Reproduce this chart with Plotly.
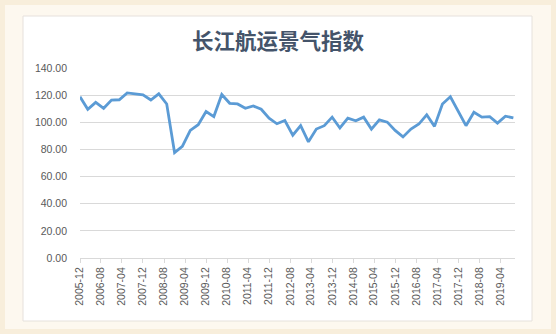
import plotly.graph_objects as go
import pandas as pd

title_text = "长江航运景气指数"
dates = pd.date_range("2005-12-01", periods=56, freq="3MS").strftime("%Y-%m-%d").tolist()
values = [118.8, 109.6, 114.7, 110.3, 116.4, 116.6, 121.7, 121.0, 120.3, 116.4,
          121.0, 113.5, 77.6, 82.2, 94.0, 98.2, 107.9, 104.2, 120.5, 114.0,
          113.5, 110.3, 112.0, 109.6, 103.0, 98.9, 101.3, 90.5, 97.5, 85.6,
          95.0, 97.5, 103.8, 95.8, 103.0, 101.1, 103.8, 95.0, 101.8, 100.1,
          94.0, 89.2, 95.0, 98.7, 105.5, 97.0, 113.5, 118.8, 107.9, 97.5,
          107.4, 103.8, 104.2, 99.4, 104.5, 103.3]
y_ticks = [0, 20, 40, 60, 80, 100, 120, 140]

W, H = 556, 334
L, R, T, B = 80, 515, 68, 258

def px_x(p):
    return (p - L) / (R - L)

def px_y(p):
    return (B - p) / (B - T)

fig = go.Figure()
fig.add_trace(go.Scatter(x=dates, y=values, mode="lines",
                         line=dict(color="#5b9bd5", width=2.8),
                         hoverinfo="x+y"))

shapes = [
    dict(type="rect", xref="paper", yref="paper", x0=px_x(0), x1=px_x(W), y0=px_y(H), y1=px_y(0),
         fillcolor="#f8eedb", line=dict(width=0), layer="below"),
    dict(type="rect", xref="paper", yref="paper", x0=px_x(5), x1=px_x(W - 5), y0=px_y(H - 5), y1=px_y(5),
         fillcolor="#fdf8ef", line=dict(width=0), layer="below"),
    dict(type="rect", xref="paper", yref="paper", x0=px_x(23), x1=px_x(532), y0=px_y(321), y1=px_y(16),
         fillcolor="#ffffff", line=dict(color="#e6e1dc", width=1), layer="below"),
]

fig.update_layout(
    width=W, height=H,
    margin=dict(l=L, r=W - R, t=T, b=H - B),
    paper_bgcolor="#f8eedb",
    plot_bgcolor="rgba(0,0,0,0)",
    showlegend=False,
    shapes=shapes,
    font=dict(family="Liberation Sans, Arial, sans-serif", color="#595959", size=10.5),
    title=dict(text="<b>" + title_text + "</b>", x=278 / W, xref="container", xanchor="center",
               y=1 - 41 / H, yref="container", yanchor="middle",
               font=dict(family="Noto Sans CJK SC", size=21.5, color="#44546a")),
)
fig.update_yaxes(range=[0, 140], tickvals=y_ticks, tickformat=".2f",
                 showgrid=True, gridcolor="#d9d9d9", gridwidth=1,
                 zeroline=False, showline=False, ticks="",
                 ticklabelstandoff=12, fixedrange=True)
fig.update_xaxes(type="date", range=["2005-12-01", "2019-09-20"],
                 tick0="2005-12-01", dtick="M8", tickformat="%Y-%m",
                 tickangle=-90, showgrid=False, zeroline=False,
                 showline=True, linecolor="#d9d9d9", linewidth=1,
                 ticks="outside", ticklen=4, tickcolor="#d9d9d9",
                 fixedrange=True)

fig.write_html("out.html")
